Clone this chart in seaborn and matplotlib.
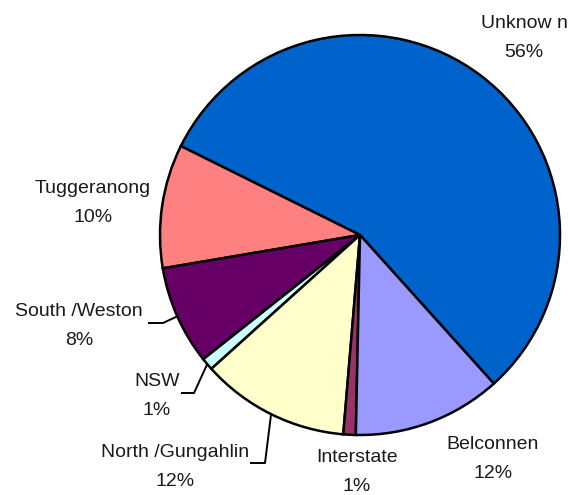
import numpy as np
import matplotlib
matplotlib.use("Agg")
import matplotlib.pyplot as plt
import seaborn as sns

# Share of cases by region (percent)
regions = ["Unknow n", "Tuggeranong", "South /Weston", "NSW",
           "North /Gungahlin", "Interstate", "Belconnen"]
shares = [56, 10, 8, 1, 12, 1, 12]
colors = ["#0063CC", "#FF8080", "#660066", "#CCFFFF",
          "#FFFFCC", "#993366", "#9999FF"]

# Label block centres (pixel-like coordinates, y measured from the top)
label_xy = [(524, 38), (93, 203), (79, 326), (157, 396),
            (175, 467), (357, 472), (493, 459)]
# Leader line knees for the small / crowded slices: (start x, end x, y)
leaders = {2: (148, 163, 323), 3: (181, 194, 393), 4: (250, 265, 463)}

sns.set_theme(style="white")
plt.rcParams["font.family"] = ["Liberation Sans", "DejaVu Sans"]

W, H = 571, 495
fig = plt.figure(figsize=(W / 100, H / 100), dpi=100)
ax = fig.add_axes([0, 0, 1, 1])

cx, cy, r = 360, H - 235, 200
start = -48
wedges, _ = ax.pie(shares, colors=colors, startangle=start, counterclock=True,
                   center=(cx, cy), radius=r,
                   wedgeprops=dict(edgecolor="black", linewidth=1.8))

for i, (name, val) in enumerate(zip(regions, shares)):
    lx, ly = label_xy[i]
    ax.text(lx, H - ly, f"{name}\n{val}%", ha="center", va="center",
            multialignment="center", fontsize=14, color="#1a1a1a",
            linespacing=1.85, transform=ax.transData)
    if i in leaders:
        x0, x1, yk = leaders[i]
        w = wedges[i]
        mid = np.deg2rad((w.theta1 + w.theta2) / 2)
        ex, ey = cx + r * np.cos(mid), cy + r * np.sin(mid)
        ax.plot([x0, x1, ex], [H - yk, H - yk, ey], color="black", lw=1.4,
                solid_capstyle="butt")

ax.set_xlim(0, W)
ax.set_ylim(0, H)
ax.set_aspect("equal")
ax.axis("off")
fig.savefig("out.png", dpi=100)
